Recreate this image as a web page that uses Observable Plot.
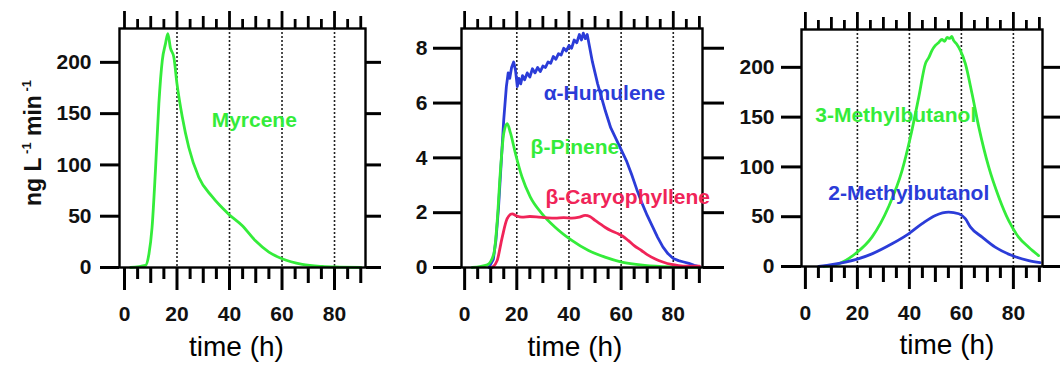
<!DOCTYPE html>
<html>
<head>
<meta charset="utf-8">
<script src="https://cdn.jsdelivr.net/npm/d3@7"></script>
<script src="https://cdn.jsdelivr.net/npm/@observablehq/plot@0.6"></script>
<style>
  body { margin: 0; background: #fff; }
  #wrap { position: relative; width: 1060px; height: 375px; overflow: hidden; background: #fff; }
</style>
</head>
<body>
<div id="wrap"></div>
<script>
// ---------- data ----------
const majorX = [0, 20, 40, 60, 80];
const tensX = [10, 30, 50, 70, 90];
const fivesX = [5, 15, 25, 35, 45, 55, 65, 75, 85];
const gridX = [20, 40, 60, 80];

const yTicksA = [0, 50, 100, 150, 200];
const yTicksB = [0, 2, 4, 6, 8];
const yTicksC = [0, 50, 100, 150, 200];

// Panel 1: Myrcene
const myrceneT = [2.3, 8, 9.3, 10.5, 11.8, 13.1, 14.4, 15.6, 16.5, 17.5, 18.8, 20, 22, 24.5, 28.3, 33.4, 39.7, 44.8, 49.9, 55, 60, 67.7, 75.3, 82, 90];
const myrceneV = [0, 2, 13, 39, 95, 160, 202, 218, 228, 214, 205, 179, 147, 117, 88, 69, 52, 41, 26, 15, 8.5, 3, 1, 0.4, 0];

// Panel 2: alpha-Humulene
const humuleneT = [9.3, 11, 12, 13, 14, 15, 16, 16.7, 17.3, 18, 18.8, 19.5, 20.2, 20.8, 21.5, 22.2, 23, 24, 25, 26, 27, 28, 29, 30, 31, 32, 33, 34, 35, 36, 37, 38, 39, 40, 41, 42, 43, 44, 44.8, 45.5, 46.3, 47, 48, 49, 50, 51, 52.5, 54, 56, 58, 60, 62, 64, 66, 68, 70, 72, 74, 76, 78, 80, 82, 84, 86, 88, 90];
const humuleneV = [0, 0.3, 1.0, 2.2, 3.8, 5.4, 6.6, 7.1, 6.9, 7.3, 7.5, 7.2, 6.6, 6.9, 6.7, 7.0, 6.85, 7.1, 6.95, 7.25, 7.1, 7.3, 7.15, 7.35, 7.3, 7.5, 7.45, 7.7, 7.6, 7.8, 7.75, 8.0, 7.9, 8.1, 8.0, 8.3, 8.2, 8.5, 8.3, 8.55, 8.35, 8.5, 8.0, 7.5, 7.1, 6.7, 6.2, 5.7, 5.1, 4.7, 4.3, 3.9, 3.4, 2.85, 2.35, 1.9, 1.5, 1.1, 0.75, 0.5, 0.33, 0.25, 0.2, 0.15, 0.08, 0.03];

// Panel 2: beta-Pinene
const pineneT = [2.9, 8.7, 11.2, 12.5, 13.7, 15, 16.3, 17.6, 19.5, 22, 25.2, 29.7, 34.7, 41.1, 47.5, 53.8, 60.2, 69, 79.3, 90];
const pineneV = [0, 0.1, 0.5, 1.7, 3.5, 4.9, 5.25, 4.9, 4.15, 3.3, 2.57, 1.96, 1.47, 0.99, 0.62, 0.38, 0.2, 0.08, 0.02, 0];

// Panel 2: beta-Caryophyllene
const caryoT = [10.6, 12.5, 14.4, 16.3, 18.2, 20, 22, 25, 28.4, 31, 34.7, 38, 41.1, 44, 46.2, 48, 50, 53.8, 56, 58.9, 60.5, 62.7, 65, 67.8, 70, 72.9, 76, 79.3, 82, 85.6, 90];
const caryoV = [0, 0.26, 1.1, 1.78, 1.96, 1.88, 1.84, 1.86, 1.84, 1.82, 1.8, 1.82, 1.8, 1.84, 1.9, 1.86, 1.72, 1.47, 1.35, 1.23, 1.15, 0.99, 0.8, 0.62, 0.47, 0.32, 0.2, 0.11, 0.07, 0.05, 0.05];

// Panel 3: 3-Methylbutanol
const mb3T = [7, 12.8, 19.2, 25.6, 32, 37.2, 40.4, 43.6, 46.2, 47.5, 48.7, 50, 51.3, 52.5, 53.5, 54.5, 55.5, 56.3, 57, 58.3, 59.6, 61.5, 64.1, 66.7, 70.5, 74.4, 78.2, 82, 85.9, 89.7];
const mb3V = [0, 2.7, 12.8, 29.5, 60, 96.5, 130, 170, 204, 210, 217, 222, 225, 228, 226, 230, 229, 231, 227, 223, 217, 204, 173.5, 140, 100, 69.6, 46, 29.5, 19.4, 11];

// Panel 3: 2-Methylbutanol
const mb2T = [5.1, 15.4, 25.6, 33.3, 39.7, 44.9, 50, 55.1, 59, 61.5, 63.5, 68, 73, 79.5, 85.9, 90.3];
const mb2V = [0, 4.3, 12.7, 22.8, 32.8, 43, 51.3, 54.6, 53, 48, 39.5, 29.5, 19.4, 11, 6, 4];

// Series labels (text and anchor in data units)
const labelsA = [{name: "Myrcene", t: 33.2, v: 144, c: "green"}];
const labelsB = [
  {name: "α-Humulene", t: 30.3, v: 6.35, c: "blue"},
  {name: "β-Pinene", t: 25.3, v: 4.38, c: "green"},
  {name: "β-Caryophyllene", t: 31, v: 2.55, c: "red"}
];
const labelsC = [
  {name: "3-Methylbutanol", t: 3.8, v: 151.6, c: "green"},
  {name: "2-Methylbutanol", t: 8.8, v: 73.3, c: "blue"}
];

const xLabel = "time (h)";

// ---------- styles ----------
const COLORS = {green: "#34ec3a", blue: "#2b3cd8", red: "#f02458"};
const FONT = "'Liberation Sans', Arial, Helvetica, sans-serif";

const toRows = (ts, vs) => ts.map((t, i) => ({t, v: vs[i]}));

function panel({left, width, marginLeft, marginRight, marginTop, frameBottom, xDomain, yDomain, yTicks, yTickSize, yTickPad, rTickSize, series, labels, labelDx, labelDy}) {
  const height = 375;
  const marks = [
    Plot.ruleX(gridX, {stroke: "#222", strokeWidth: 1.6, strokeDasharray: "2,2"}),
    ...series.map(s => Plot.line(toRows(s.t, s.v), {x: "t", y: "v", stroke: COLORS[s.c], strokeWidth: 2.8, curve: s.curve || "monotone-x"})),
    Plot.frame({stroke: "#000", strokeWidth: 2.4}),
    // bottom axis
    Plot.axisX(majorX, {anchor: "bottom", tickSize: 23, tickPadding: 16, fontSize: 21, fontWeight: "bold", strokeWidth: 3, label: null, fill: "#111"}),
    Plot.axisX(tensX, {anchor: "bottom", tickSize: 16, strokeWidth: 3, tickFormat: () => "", label: null}),
    Plot.axisX(fivesX, {anchor: "bottom", tickSize: 12, strokeWidth: 3, tickFormat: () => "", label: null}),
    // top axis
    Plot.axisX(majorX, {anchor: "top", tickSize: 18, strokeWidth: 2.8, tickFormat: () => "", label: null}),
    Plot.axisX(tensX, {anchor: "top", tickSize: 13, strokeWidth: 2.8, tickFormat: () => "", label: null}),
    Plot.axisX(fivesX, {anchor: "top", tickSize: 10, strokeWidth: 2.8, tickFormat: () => "", label: null}),
    // left / right axes
    Plot.axisY(yTicks, {anchor: "left", tickSize: yTickSize, tickPadding: yTickPad, fontSize: 21, fontWeight: "bold", strokeWidth: 3, label: null, fill: "#111"}),
    Plot.axisY(yTicks, {anchor: "right", tickSize: rTickSize, strokeWidth: 3, tickFormat: () => "", label: null}),
    // series labels
    Plot.text(labels, {x: "t", y: "v", text: "name", fill: d => COLORS[d.c], textAnchor: "start", fontSize: 21, fontWeight: "bold"}),
    // x title
    Plot.text([xLabel], {text: d => d, frameAnchor: "bottom", dx: labelDx, dy: labelDy, fontSize: 28, fill: "#000"})
  ];
  const svg = Plot.plot({
    width, height,
    marginLeft, marginRight, marginTop, marginBottom: height - frameBottom,
    x: {domain: xDomain},
    y: {domain: yDomain},
    style: {fontFamily: FONT, background: "transparent", overflow: "visible"},
    marks
  });
  svg.style.position = "absolute";
  svg.style.left = left + "px";
  svg.style.top = "0px";
  return svg;
}

const wrap = document.getElementById("wrap");

const p1 = panel({
  left: 0, width: 385, marginLeft: 119, marginRight: 20, marginTop: 28, frameBottom: 267,
  xDomain: [-1.9, 91.8], yDomain: [0, 233], yTicks: yTicksA, yTickSize: 19, yTickPad: 9, rTickSize: 15,
  series: [{t: myrceneT, v: myrceneV, c: "green"}], labels: labelsA, labelDx: -6, labelDy: 88
});
const p2 = panel({
  left: 385, width: 335, marginLeft: 76, marginRight: 18, marginTop: 28, frameBottom: 267,
  xDomain: [-1.2, 91.2], yDomain: [0, 8.72], yTicks: yTicksB, yTickSize: 28, yTickPad: 6, rTickSize: 21,
  series: [{t: humuleneT, v: humuleneV, c: "blue", curve: "linear"}, {t: pineneT, v: pineneV, c: "green"}, {t: caryoT, v: caryoV, c: "red"}],
  labels: labelsB, labelDx: -7, labelDy: 88
});
const p3 = panel({
  left: 720, width: 340, marginLeft: 81, marginRight: 18, marginTop: 29, frameBottom: 266,
  xDomain: [-1.5, 91.2], yDomain: [0, 238], yTicks: yTicksC, yTickSize: 20, yTickPad: 7, rTickSize: 18,
  series: [{t: mb3T, v: mb3V, c: "green"}, {t: mb2T, v: mb2V, c: "blue"}],
  labels: labelsC, labelDx: 25, labelDy: 87
});
wrap.appendChild(p1);
wrap.appendChild(p2);
wrap.appendChild(p3);

// y-axis title with superscripts on first panel
const yt = d3.select(p1).append("text")
  .attr("transform", "translate(41,143) rotate(-90)")
  .attr("text-anchor", "middle")
  .attr("font-family", FONT)
  .attr("font-weight", "bold")
  .attr("font-size", 23)
  .attr("fill", "#111");
yt.append("tspan").text("ng L");
yt.append("tspan").attr("dy", -10).attr("font-size", 13).text(" -1");
yt.append("tspan").attr("dy", 10).text(" min");
yt.append("tspan").attr("dy", -10).attr("font-size", 13).text(" -1");
</script>
</body>
</html>
